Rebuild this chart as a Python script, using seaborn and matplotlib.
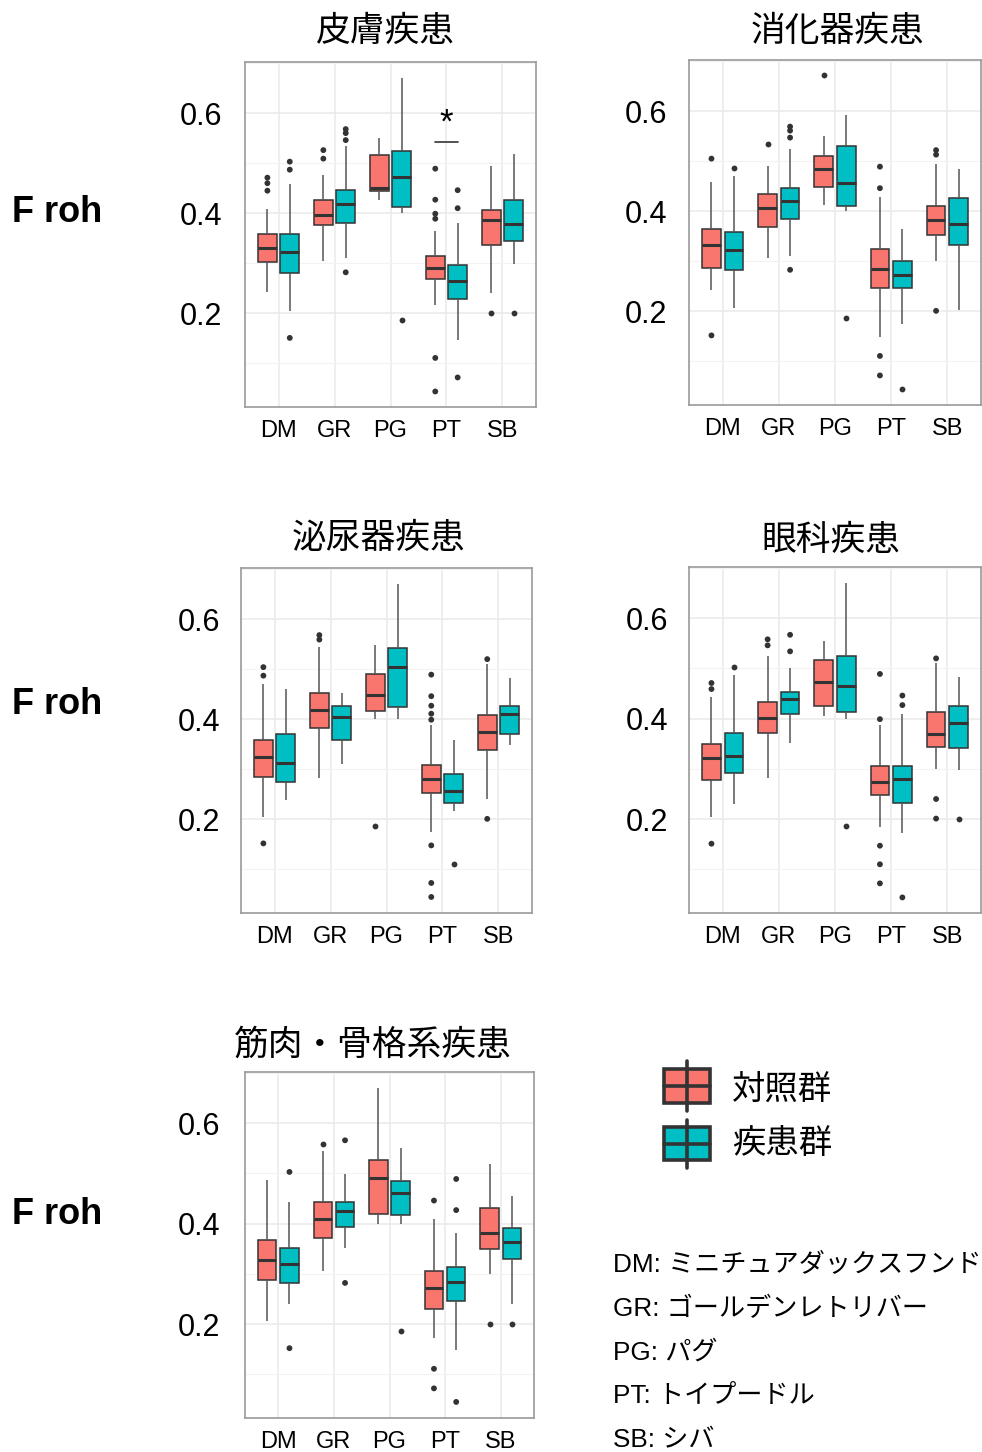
import numpy as np
import pandas as pd
import matplotlib
matplotlib.use("Agg")
import matplotlib.pyplot as plt
from matplotlib.patches import Rectangle
from matplotlib.lines import Line2D
import seaborn as sns

# ---------------- data ----------------
breeds = ["DM", "GR", "PG", "PT", "SB"]
groups = ["対照群", "疾患群"]
palette = {"対照群": "#F8766D", "疾患群": "#00BFC4"}
titles = ["皮膚疾患", "消化器疾患", "泌尿器疾患", "眼科疾患", "筋肉・骨格系疾患"]
ylabel_text = "F roh"

# box stats per breed: (lower whisker, Q1, median, Q3, upper whisker)
skin_ctrl = [(0.243, 0.303, 0.331, 0.358, 0.408), (0.305, 0.377, 0.397, 0.427, 0.477),
             (0.426, 0.445, 0.450, 0.517, 0.550), (0.217, 0.268, 0.291, 0.315, 0.365),
             (0.241, 0.337, 0.387, 0.407, 0.495)]
skin_ctrl_out = [[0.471, 0.460, 0.445], [0.526, 0.509], [], [0.489, 0.427, 0.399, 0.389, 0.111, 0.044], [0.201]]
skin_dis = [(0.205, 0.280, 0.322, 0.359, 0.459), (0.310, 0.381, 0.418, 0.446, 0.534),
            (0.400, 0.413, 0.473, 0.524, 0.670), (0.147, 0.228, 0.265, 0.296, 0.381),
            (0.298, 0.345, 0.379, 0.426, 0.519)]
skin_dis_out = [[0.503, 0.487, 0.151], [0.568, 0.560, 0.546, 0.282], [0.186], [0.446, 0.410, 0.072], [0.201]]

dig_ctrl = [(0.243, 0.287, 0.332, 0.364, 0.459), (0.306, 0.369, 0.407, 0.435, 0.491),
            (0.412, 0.448, 0.485, 0.511, 0.550), (0.148, 0.246, 0.285, 0.324, 0.428),
            (0.300, 0.353, 0.383, 0.410, 0.495)]
dig_ctrl_out = [[0.505, 0.152], [0.535], [0.672], [0.489, 0.446, 0.111, 0.072], [0.522, 0.513, 0.201]]
dig_dis = [(0.206, 0.282, 0.322, 0.359, 0.471), (0.310, 0.384, 0.420, 0.447, 0.525),
           (0.401, 0.410, 0.457, 0.531, 0.593), (0.174, 0.246, 0.272, 0.300, 0.365),
           (0.202, 0.332, 0.374, 0.427, 0.484)]
dig_dis_out = [[0.487], [0.569, 0.561, 0.547, 0.283], [0.187], [0.044], []]

uro_ctrl = [(0.205, 0.284, 0.325, 0.358, 0.470), (0.282, 0.382, 0.419, 0.452, 0.545),
            (0.400, 0.417, 0.448, 0.491, 0.548), (0.174, 0.252, 0.281, 0.309, 0.389),
            (0.241, 0.339, 0.374, 0.409, 0.510)]
uro_ctrl_out = [[0.504, 0.487, 0.152], [0.568, 0.559], [0.187],
                [0.489, 0.446, 0.427, 0.411, 0.399, 0.148, 0.073, 0.045], [0.520, 0.201]]
uro_dis = [(0.239, 0.274, 0.313, 0.371, 0.460), (0.310, 0.358, 0.405, 0.427, 0.452),
           (0.401, 0.424, 0.504, 0.542, 0.670), (0.217, 0.233, 0.256, 0.290, 0.358),
           (0.348, 0.371, 0.411, 0.427, 0.483)]
uro_dis_out = [[], [], [], [0.111], []]

eye_ctrl = [(0.205, 0.277, 0.321, 0.349, 0.443), (0.282, 0.371, 0.401, 0.433, 0.525),
            (0.406, 0.425, 0.473, 0.517, 0.555), (0.185, 0.248, 0.273, 0.305, 0.388),
            (0.300, 0.344, 0.370, 0.414, 0.511)]
eye_ctrl_out = [[0.471, 0.459, 0.151], [0.558, 0.546], [], [0.489, 0.399, 0.147, 0.110, 0.072], [0.520, 0.240, 0.201]]
eye_dis = [(0.230, 0.292, 0.326, 0.371, 0.486), (0.351, 0.410, 0.439, 0.453, 0.500),
           (0.400, 0.413, 0.465, 0.524, 0.670), (0.172, 0.232, 0.279, 0.305, 0.410),
           (0.298, 0.342, 0.392, 0.426, 0.483)]
eye_dis_out = [[0.503], [0.567, 0.534], [0.186], [0.446, 0.427, 0.044], [0.201]]

msk_ctrl = [(0.206, 0.288, 0.327, 0.368, 0.486), (0.305, 0.371, 0.410, 0.444, 0.545),
            (0.399, 0.419, 0.490, 0.526, 0.670), (0.173, 0.231, 0.271, 0.305, 0.410),
            (0.300, 0.350, 0.382, 0.431, 0.519)]
msk_ctrl_out = [[], [0.559], [], [0.446, 0.111, 0.072], [0.201]]
msk_dis = [(0.240, 0.282, 0.319, 0.352, 0.444), (0.351, 0.393, 0.426, 0.443, 0.499),
           (0.400, 0.418, 0.461, 0.484, 0.550), (0.148, 0.246, 0.283, 0.314, 0.381),
           (0.241, 0.330, 0.364, 0.391, 0.455)]
msk_dis_out = [[0.503, 0.152], [0.566, 0.282], [0.186], [0.489, 0.427, 0.045], [0.201]]

abbrev = ["DM: ミニチュアダックスフンド", "GR: ゴールデンレトリバー", "PG: パグ",
          "PT: トイプードル", "SB: シバ"]

# significance mark (panel 0, breed PT)
sig_panel, sig_breed, sig_y, sig_label = 0, "PT", 0.543, "*"

panels = [
    (skin_ctrl, skin_ctrl_out, skin_dis, skin_dis_out),
    (dig_ctrl, dig_ctrl_out, dig_dis, dig_dis_out),
    (uro_ctrl, uro_ctrl_out, uro_dis, uro_dis_out),
    (eye_ctrl, eye_ctrl_out, eye_dis, eye_dis_out),
    (msk_ctrl, msk_ctrl_out, msk_dis, msk_dis_out),
]


def box_table(ctrl, dis):
    """Long table whose quantiles reproduce the given box statistics."""
    rows = []
    for grp, stats in zip(groups, (ctrl, dis)):
        for b, (lo, q1, med, q3, hi) in zip(breeds, stats):
            vals = [lo] + [q1] * 20 + [med] * 20 + [q3] * 20 + [hi]
            rows += [(b, grp, v) for v in vals]
    return pd.DataFrame(rows, columns=["breed", "group", "froh"])


def outlier_table(ctrl_out, dis_out):
    rows = []
    for grp, outs in zip(groups, (ctrl_out, dis_out)):
        for b, vals in zip(breeds, outs):
            rows += [(b, grp, v) for v in vals]
    return pd.DataFrame(rows, columns=["breed", "group", "froh"])


# ---------------- figure ----------------
sns.set_theme(style="white")
plt.rcParams["font.family"] = ["Liberation Sans", "Noto Sans CJK JP", "DejaVu Sans"]

W, H = 982, 1452
fig = plt.figure(figsize=(W / 100, H / 100), dpi=100)


def fx(px):
    return px / W


def fy(py):
    return 1 - py / H


# axes boxes in pixels: left, top, right, bottom
ax_px = [(245, 62, 536, 407), (689, 60, 981, 405), (241, 568, 532, 913),
         (689, 567, 981, 913), (245, 1072, 534, 1418)]
title_px = [(385, 31), (838, 31), (379, 538), (831, 540), (373, 1045)]
ylab_pad = [12.5, 11.5, 11, 11, 14]
froh_y = [212, 705, 1215]

for i, ((l, t, r, b), (c, cout, d, dout)) in enumerate(zip(ax_px, panels)):
    ax = fig.add_axes([fx(l), fy(b), (r - l) / W, (b - t) / H])
    ax.set_axisbelow(True)
    df = box_table(c, d)
    sns.boxplot(data=df, x="breed", y="froh", hue="group", order=breeds, hue_order=groups,
                palette=palette, saturation=1, width=0.8, gap=0.17, whis=(0, 100),
                showfliers=False, showcaps=False, linecolor="#333333", linewidth=1.1,
                medianprops={"linewidth": 2.2, "color": "#333333"},
                whiskerprops={"color": "#555555", "linewidth": 1.1},
                legend=False, ax=ax, zorder=3)
    od = outlier_table(cout, dout)
    sns.stripplot(data=od, x="breed", y="froh", hue="group", order=breeds, hue_order=groups,
                  palette={g: "#333333" for g in groups}, dodge=True, jitter=False,
                  size=4.2, linewidth=0, legend=False, ax=ax, zorder=4)
    ax.set_xlim(-0.6, 4.6)
    ax.set_ylim(0.013, 0.702)
    ax.set_yticks([0.2, 0.4, 0.6])
    ax.set_yticks([0.1, 0.3, 0.5, 0.7], minor=True)
    ax.set_yticklabels(["0.2", "0.4", "0.6"])
    ax.grid(True, which="major", color="#EBEBEB", linewidth=1.2, zorder=0)
    ax.grid(True, which="minor", axis="y", color="#F3F3F3", linewidth=0.8, zorder=0)
    ax.tick_params(axis="y", which="major", labelsize=22, length=4, width=1,
                   color="#777777", pad=ylab_pad[i], labelcolor="black")
    ax.tick_params(axis="x", which="major", labelsize=17, length=4, width=1,
                   color="#777777", pad=5.5, labelcolor="black")
    ax.tick_params(which="minor", length=0)
    ax.set_xlabel("")
    ax.set_ylabel("")
    for sp in ax.spines.values():
        sp.set_visible(True)
        sp.set_color("#9a9a9a")
        sp.set_linewidth(1.2)
    fig.text(fx(title_px[i][0]), fy(title_px[i][1]), titles[i], ha="center", va="center",
             fontsize=25, family=["Noto Sans CJK JP"], color="black")
    if i == sig_panel:
        k = breeds.index(sig_breed)
        ax.plot([k - 0.2, k + 0.2], [sig_y, sig_y], color="#333333", lw=1.2, zorder=5)
        ax.text(k, 0.560, sig_label, ha="center", va="baseline", fontsize=25,
                color="black", zorder=5)

for yy in froh_y:
    fig.text(fx(12), fy(yy), ylabel_text, ha="left", va="center", fontsize=26,
             fontweight="bold", color="black")

# ---------------- legend ----------------
leg_items = [(groups[0], 1061, 1069, 1103, 1111, 1089), (groups[1], 1120, 1127, 1160, 1168, 1143)]
for name, wt, bt, bb, wb, ty in leg_items:
    xc = 686.5
    fig.add_artist(Line2D([fx(xc), fx(xc)], [fy(wt), fy(wb)], color="#333333", lw=2.6))
    fig.add_artist(Rectangle((fx(664), fy(bb)), (710 - 664) / W, (bb - bt) / H,
                             facecolor=palette[name], edgecolor="#333333", lw=2.6))
    fig.add_artist(Line2D([fx(664), fx(710)], [fy((bt + bb) / 2)] * 2, color="#333333", lw=2.6))
    fig.text(fx(732), fy(ty), name, ha="left", va="center", fontsize=24,
             family=["Noto Sans CJK JP"], color="black")

for j, s in enumerate(abbrev):
    fig.text(fx(613), fy(1265 + j * 43.7), s, ha="left", va="center", fontsize=18.8,
             family=["Liberation Sans", "Noto Sans CJK JP"], color="black")

fig.savefig("out.png", dpi=100)
